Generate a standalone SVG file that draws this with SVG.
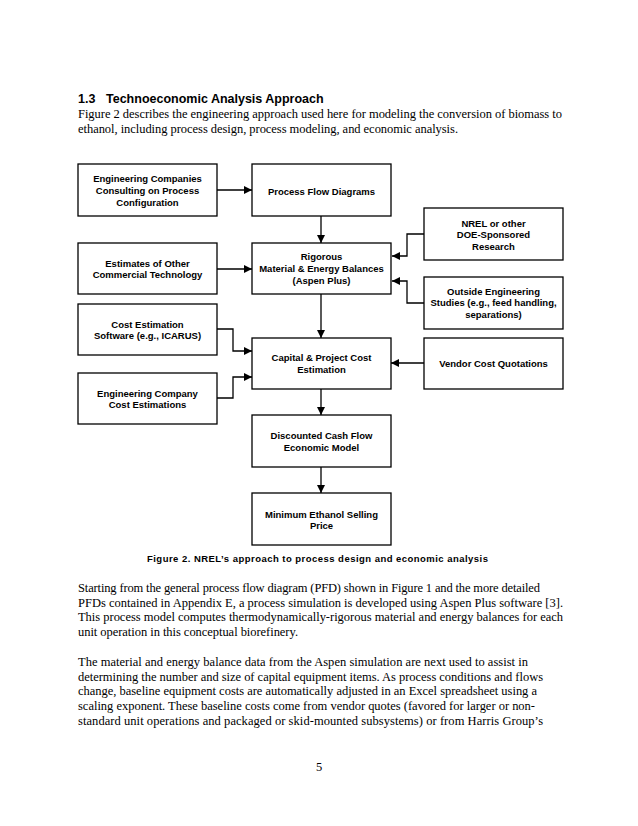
<svg xmlns="http://www.w3.org/2000/svg" width="638" height="826" viewBox="0 0 638 826">
<defs>
<style>
.box{fill:#fff;stroke:#000;stroke-width:1.3}
.bt{font-family:"Liberation Sans",Arial,sans-serif;font-weight:bold;font-size:9.5px;text-anchor:middle;fill:#000}
.body{font-family:"Liberation Serif","Times New Roman",serif;font-size:12.5px;fill:#000}
.h{font-family:"Liberation Sans",Arial,sans-serif;font-weight:bold;font-size:12.5px;fill:#000}
.cap{font-family:"Liberation Sans",Arial,sans-serif;font-weight:bold;font-size:9.5px;fill:#000}
.c{fill:none;stroke:#000;stroke-width:1.3}
</style>
<marker id="ah" viewBox="0 0 10 10" refX="10" refY="5" markerWidth="8" markerHeight="8" markerUnits="userSpaceOnUse" orient="auto">
<path d="M0,0 L10,5 L0,10 z" fill="#000"/>
</marker>
</defs>
<rect width="638" height="826" fill="#fff"/>

<g id="heading">
<text class="h" x="78" y="103">1.3</text>
<text class="h" x="106" y="103">Technoeconomic Analysis Approach</text>
<text class="body" x="78" y="118" textLength="484" lengthAdjust="spacing">Figure 2 describes the engineering approach used here for modeling the conversion of biomass to</text>
<text class="body" x="78" y="133" textLength="380" lengthAdjust="spacing">ethanol, including process design, process modeling, and economic analysis.</text>
</g>

<g id="connectors">
<path class="c" marker-end="url(#ah)" d="M217,190 H252"/>
<path class="c" marker-end="url(#ah)" d="M321,216 V243"/>
<path class="c" marker-end="url(#ah)" d="M217,269 H252"/>
<path class="c" marker-end="url(#ah)" d="M424,234 H407 V256 H392"/>
<path class="c" marker-end="url(#ah)" d="M424,303 H407 V281 H392"/>
<path class="c" marker-end="url(#ah)" d="M321,294 V338"/>
<path class="c" marker-end="url(#ah)" d="M217,329 H233 V351 H252"/>
<path class="c" marker-end="url(#ah)" d="M217,398 H233 V377 H252"/>
<path class="c" marker-end="url(#ah)" d="M424,363 H391"/>
<path class="c" marker-end="url(#ah)" d="M321,389 V415"/>
<path class="c" marker-end="url(#ah)" d="M321,467 V493"/>
</g>

<g id="n-consulting">
<rect class="box" x="78" y="164" width="139" height="52"/>
<text class="bt" x="147.5" y="181.5">Engineering Companies</text>
<text class="bt" x="147.5" y="193.5">Consulting on Process</text>
<text class="bt" x="147.5" y="205.5">Configuration</text>
</g>
<g id="n-pfd">
<rect class="box" x="252" y="164" width="139" height="52"/>
<text class="bt" x="321.5" y="194.5">Process Flow Diagrams</text>
</g>
<g id="n-nrel">
<rect class="box" x="424" y="208" width="139" height="52"/>
<text class="bt" x="493.5" y="226.5">NREL or other</text>
<text class="bt" x="493.5" y="238">DOE-Sponsored</text>
<text class="bt" x="493.5" y="249.5">Research</text>
</g>
<g id="n-estimates">
<rect class="box" x="78" y="243" width="139" height="51"/>
<text class="bt" x="147.5" y="266.5">Estimates of Other</text>
<text class="bt" x="147.5" y="278">Commercial Technology</text>
</g>
<g id="n-rigorous">
<rect class="box" x="252" y="243" width="139" height="51"/>
<text class="bt" x="321.5" y="259.5">Rigorous</text>
<text class="bt" x="321.5" y="271.5">Material &amp; Energy Balances</text>
<text class="bt" x="321.5" y="283.5">(Aspen Plus)</text>
</g>
<g id="n-outside">
<rect class="box" x="424" y="277" width="139" height="52"/>
<text class="bt" x="493.5" y="294.5">Outside Engineering</text>
<text class="bt" x="493.5" y="306">Studies (e.g., feed handling,</text>
<text class="bt" x="493.5" y="317.5">separations)</text>
</g>
<g id="n-software">
<rect class="box" x="78" y="304" width="139" height="51"/>
<text class="bt" x="147.5" y="327.5">Cost Estimation</text>
<text class="bt" x="147.5" y="339">Software (e.g., ICARUS)</text>
</g>
<g id="n-capital">
<rect class="box" x="252" y="338" width="139" height="51"/>
<text class="bt" x="321.5" y="361">Capital &amp; Project Cost</text>
<text class="bt" x="321.5" y="373">Estimation</text>
</g>
<g id="n-vendor">
<rect class="box" x="424" y="338" width="139" height="51"/>
<text class="bt" x="493.5" y="366.5">Vendor Cost Quotations</text>
</g>
<g id="n-engco">
<rect class="box" x="78" y="373" width="139" height="51"/>
<text class="bt" x="147.5" y="396.5">Engineering Company</text>
<text class="bt" x="147.5" y="408">Cost Estimations</text>
</g>
<g id="n-dcf">
<rect class="box" x="252" y="415" width="139" height="52"/>
<text class="bt" x="321.5" y="438.5">Discounted Cash Flow</text>
<text class="bt" x="321.5" y="450.5">Economic Model</text>
</g>
<g id="n-mesp">
<rect class="box" x="252" y="493" width="139" height="52"/>
<text class="bt" x="321.5" y="517.5">Minimum Ethanol Selling</text>
<text class="bt" x="321.5" y="529">Price</text>
</g>

<g id="caption">
<text class="cap" x="147" y="562" textLength="341" lengthAdjust="spacing">Figure 2. NREL’s approach to process design and economic analysis</text>
</g>

<g id="body">
<text class="body" x="78" y="592" textLength="462" lengthAdjust="spacing">Starting from the general process flow diagram (PFD) shown in Figure 1 and the more detailed</text>
<text class="body" x="78" y="607" textLength="485" lengthAdjust="spacing">PFDs contained in Appendix E, a process simulation is developed using Aspen Plus software [3].</text>
<text class="body" x="78" y="621" textLength="485" lengthAdjust="spacing">This process model computes thermodynamically-rigorous material and energy balances for each</text>
<text class="body" x="78" y="636" textLength="220" lengthAdjust="spacing">unit operation in this conceptual biorefinery.</text>
<text class="body" x="78" y="666" textLength="450" lengthAdjust="spacing">The material and energy balance data from the Aspen simulation are next used to assist in</text>
<text class="body" x="78" y="681" textLength="465" lengthAdjust="spacing">determining the number and size of capital equipment items. As process conditions and flows</text>
<text class="body" x="78" y="695" textLength="459" lengthAdjust="spacing">change, baseline equipment costs are automatically adjusted in an Excel spreadsheet using a</text>
<text class="body" x="78" y="710" textLength="457" lengthAdjust="spacing">scaling exponent. These baseline costs come from vendor quotes (favored for larger or non-</text>
<text class="body" x="78" y="725" textLength="465" lengthAdjust="spacing">standard unit operations and packaged or skid-mounted subsystems) or from Harris Group’s</text>
<text class="body" x="319" y="771" text-anchor="middle">5</text>
</g>
</svg>
